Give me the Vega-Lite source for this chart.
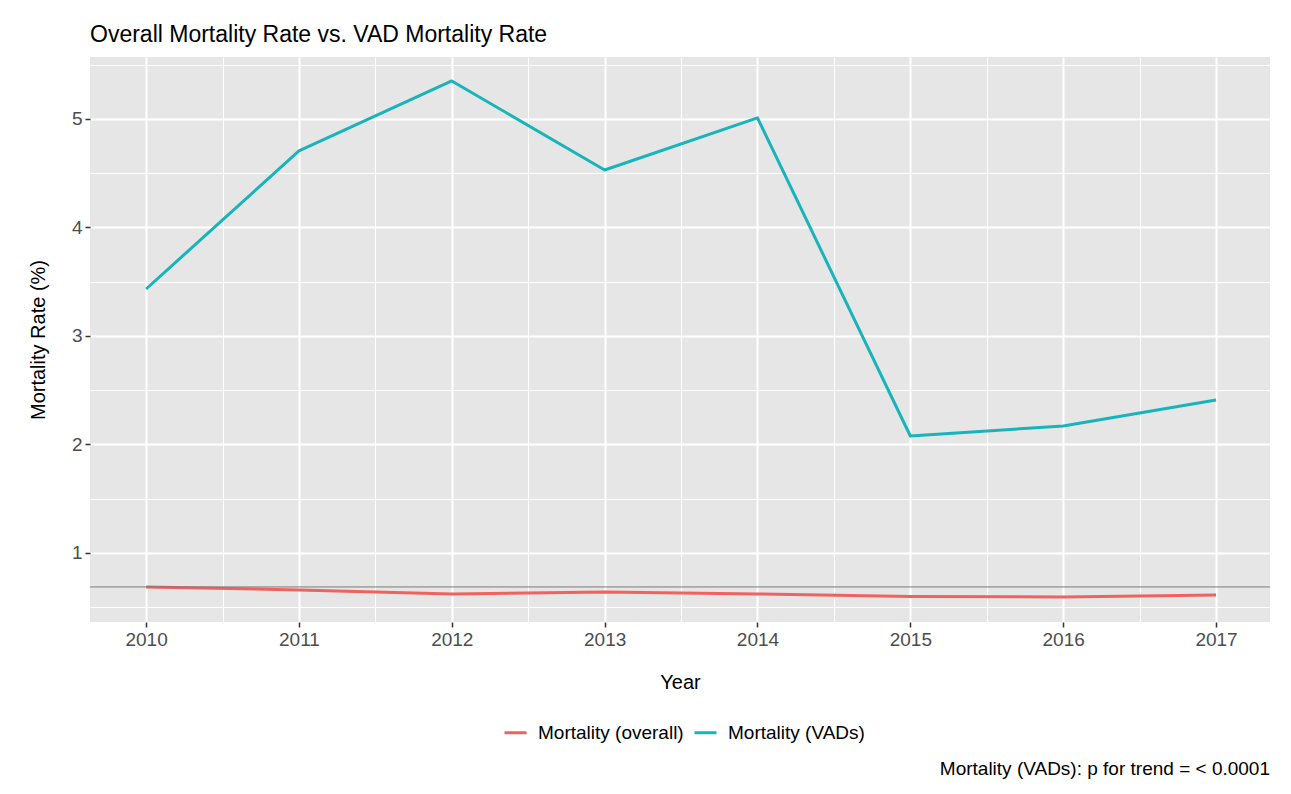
{
  "$schema": "https://vega.github.io/schema/vega-lite/v6.json",
  "autosize": {"type": "none"},
  "width": 1180,
  "height": 565,
  "padding": {"left": 90, "top": 57, "right": 21, "bottom": 172},
  "background": "white",
  "title": {
    "text": "Overall Mortality Rate vs. VAD Mortality Rate",
    "anchor": "start",
    "frame": "group",
    "baseline": "bottom",
    "offset": -13,
    "font": "Liberation Sans",
    "fontSize": 23,
    "fontWeight": "normal",
    "color": "#000000"
  },
  "config": {
    "view": {"fill": "#E6E6E6", "stroke": null},
    "font": "Liberation Sans"
  },
  "datasets": {
    "rates": [
      {"Year": 2010, "series": "Mortality (overall)", "rate": 0.687},
      {"Year": 2011, "series": "Mortality (overall)", "rate": 0.66},
      {"Year": 2012, "series": "Mortality (overall)", "rate": 0.622},
      {"Year": 2013, "series": "Mortality (overall)", "rate": 0.64},
      {"Year": 2014, "series": "Mortality (overall)", "rate": 0.622},
      {"Year": 2015, "series": "Mortality (overall)", "rate": 0.60},
      {"Year": 2016, "series": "Mortality (overall)", "rate": 0.595},
      {"Year": 2017, "series": "Mortality (overall)", "rate": 0.613},
      {"Year": 2010, "series": "Mortality (VADs)", "rate": 3.433},
      {"Year": 2011, "series": "Mortality (VADs)", "rate": 4.705},
      {"Year": 2012, "series": "Mortality (VADs)", "rate": 5.35},
      {"Year": 2013, "series": "Mortality (VADs)", "rate": 4.53},
      {"Year": 2014, "series": "Mortality (VADs)", "rate": 5.01},
      {"Year": 2015, "series": "Mortality (VADs)", "rate": 2.078},
      {"Year": 2016, "series": "Mortality (VADs)", "rate": 2.17},
      {"Year": 2017, "series": "Mortality (VADs)", "rate": 2.41}
    ],
    "one": [{}]
  },
  "layer": [
    {
      "data": {"name": "rates"},
      "mark": {"type": "line", "strokeWidth": 3, "strokeCap": "butt", "strokeJoin": "round"},
      "encoding": {
        "x": {
          "field": "Year",
          "type": "quantitative",
          "scale": {"domain": [2009.633, 2017.353], "nice": false, "zero": false},
          "axis": {
            "title": "Year",
            "values": [2009.5, 2010, 2010.5, 2011, 2011.5, 2012, 2012.5, 2013, 2013.5, 2014, 2014.5, 2015, 2015.5, 2016, 2016.5, 2017],
            "labelExpr": "datum.value % 1 === 0 ? datum.value : ''",
            "grid": true,
            "gridColor": "#FFFFFF",
            "gridWidth": {"condition": {"test": "datum.value % 1 !== 0", "value": 1}, "value": 2},
            "domain": false,
            "ticks": true,
            "tickColor": "#333333",
            "tickSize": 5,
            "tickWidth": {"condition": {"test": "datum.value % 1 !== 0", "value": 0}, "value": 1.5},
            "labelFont": "Liberation Sans",
            "labelFontSize": 19,
            "labelColor": "#4D4D4D",
            "labelPadding": 3,
            "labelFlush": false,
            "labelOverlap": false,
            "titleFont": "Liberation Sans",
            "titleFontSize": 20,
            "titleFontWeight": "normal",
            "titleColor": "#000000",
            "titlePadding": 23
          }
        },
        "y": {
          "field": "rate",
          "type": "quantitative",
          "scale": {"domain": [0.364, 5.571], "nice": false, "zero": false},
          "axis": {
            "title": "Mortality Rate (%)",
            "values": [0.5, 1, 1.5, 2, 2.5, 3, 3.5, 4, 4.5, 5, 5.5],
            "labelExpr": "datum.value % 1 === 0 ? datum.value : ''",
            "grid": true,
            "gridColor": "#FFFFFF",
            "gridWidth": {"condition": {"test": "datum.value % 1 !== 0", "value": 1}, "value": 2},
            "domain": false,
            "ticks": true,
            "tickColor": "#333333",
            "tickSize": 5,
            "tickWidth": {"condition": {"test": "datum.value % 1 !== 0", "value": 0}, "value": 1.5},
            "labelFont": "Liberation Sans",
            "labelFontSize": 19,
            "labelColor": "#4D4D4D",
            "labelPadding": 3,
            "labelFlush": false,
            "titleFont": "Liberation Sans",
            "titleFontSize": 20,
            "titleFontWeight": "normal",
            "titleColor": "#000000",
            "titlePadding": 23
          }
        },
        "color": {
          "field": "series",
          "type": "nominal",
          "scale": {"domain": ["Mortality (overall)", "Mortality (VADs)"], "range": ["#F0625F", "#19B4BA"]},
          "legend": {
            "title": null,
            "orient": "none",
            "legendX": 413,
            "legendY": 663,
            "direction": "horizontal",
            "symbolType": "stroke",
            "symbolStrokeWidth": 3,
            "symbolSize": 484,
            "labelFont": "Liberation Sans",
            "labelFontSize": 19,
            "labelColor": "#000000",
            "columnPadding": 4,
            "labelOffset": 10
          }
        }
      }
    },
    {
      "data": {"name": "one"},
      "mark": {"type": "rule", "color": "#7A7A7A", "strokeWidth": 1},
      "encoding": {"y": {"datum": 0.687}}
    },
    {
      "data": {"name": "one"},
      "mark": {"type": "text", "align": "right", "baseline": "alphabetic", "font": "Liberation Sans", "fontSize": 19, "color": "#000000", "clip": false},
      "encoding": {
        "x": {"datum": 2017.353},
        "y": {"datum": -1.05},
        "text": {"value": "Mortality (VADs): p for trend = < 0.0001"}
      }
    }
  ]
}
